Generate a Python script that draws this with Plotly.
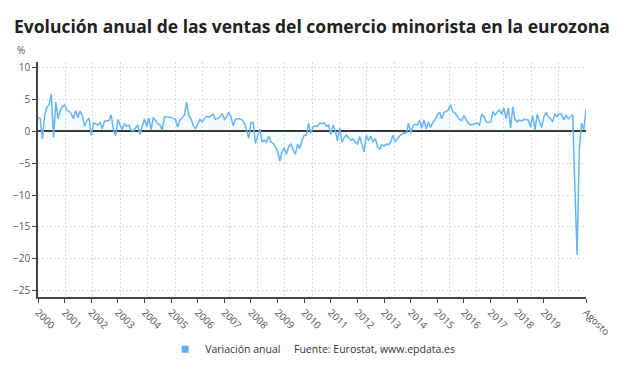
import pandas as pd
import plotly.graph_objects as go

# ---- data (annual % change, monthly, Jan 2000 - Aug 2020) ----
v2000 = [2.2, 2.0, -1.2, 2.5, 3.8, 4.2, 5.9, -0.9, 4.6, 2.0, 3.3, 3.9]
v2001 = [4.2, 3.3, 3.2, 2.8, 2.0, 3.3, 2.2, 3.2, 2.4, 0.8, 1.7, 2.1]
v2002 = [-0.6, 1.3, 1.2, 1.0, 1.4, 0.4, 1.6, 1.6, 1.7, 2.6, 0.2, -0.7]
v2003 = [1.9, 1.0, 0.3, 1.2, 0.8, 1.0, 0.2, 0.1, 0.5, 1.0, -0.5, 0.8]
v2004 = [2.0, 0.8, 2.1, 0.3, 2.2, 1.7, 1.2, 1.0, 0.2, 2.3, 2.3, 2.2]
v2005 = [2.2, 2.0, 1.9, 0.7, 1.8, 2.1, 2.6, 4.6, 2.4, 2.0, 0.9, 0.4]
v2006 = [1.3, 1.9, 1.5, 2.0, 2.4, 2.2, 2.4, 2.7, 1.9, 2.0, 2.3, 2.8]
v2007 = [1.9, 2.3, 3.0, 2.3, 0.9, 1.9, 2.0, 2.0, 1.8, 1.3, 0.2, -1.1]
v2008 = [1.4, 1.4, -1.9, -0.8, 0.4, -1.7, -1.4, -1.7, -0.7, -1.7, -1.9, -2.4]
v2009 = [-3.2, -4.7, -3.2, -2.6, -3.6, -2.4, -2.0, -2.9, -3.6, -2.0, -2.7, -1.4]
v2010 = [-0.6, -0.6, 1.3, -0.3, 0.7, 0.9, 0.8, 1.3, 1.2, 1.4, 0.8, 1.0]
v2011 = [-0.5, 1.0, 0.2, -1.5, 0.5, -1.7, -1.0, -0.6, -1.0, -1.4, -1.2, -1.7]
v2012 = [-2.0, -0.8, -2.0, -3.2, -0.6, -1.4, -0.7, -1.7, -1.1, -2.4, -2.8, -2.1]
v2013 = [-2.3, -2.0, -2.1, -1.7, -0.6, -1.7, -1.1, -0.7, -0.5, -0.2, -0.3, 1.3]
v2014 = [-0.3, 0.9, 1.1, 1.0, 1.8, 0.5, 1.8, 0.4, 1.5, 0.6, 1.5, 1.8]
v2015 = [2.6, 3.0, 2.0, 3.0, 3.1, 3.4, 4.2, 3.1, 2.9, 2.3, 1.9, 1.7]
v2016 = [2.5, 1.8, 1.3, 1.0, 1.1, 1.1, 1.3, 1.0, 2.7, 2.3, 1.5, 1.4]
v2017 = [1.5, 3.1, 2.6, 3.0, 3.4, 2.7, 3.7, 2.0, 3.7, 0.5, 3.9, 1.9]
v2018 = [1.5, 1.8, 1.6, 1.9, 1.9, 1.8, 0.7, 2.5, 0.2, 2.7, 1.6, 0.6]
v2019 = [2.3, 3.0, 2.3, 2.0, 1.5, 2.8, 2.3, 2.8, 2.7, 1.8, 2.6, 2.0]
v2020 = [2.3, 2.6, -8.8, -19.4, -3.0, 1.3, 0.2, 3.6]

values = (v2000 + v2001 + v2002 + v2003 + v2004 + v2005 + v2006 + v2007 +
          v2008 + v2009 + v2010 + v2011 + v2012 + v2013 + v2014 + v2015 +
          v2016 + v2017 + v2018 + v2019 + v2020)
dates = pd.date_range("2000-01-01", periods=len(values), freq="MS")

tick_vals = [f"{y}-01-01" for y in range(2000, 2020)] + ["2020-08-01"]
tick_text = [str(y) for y in range(2000, 2020)] + ["Agosto"]
y_ticks = [-25, -20, -15, -10, -5, 0, 5, 10]

series_name = "Variación anual"
title_text = "Evolución anual de las ventas del comercio minorista en la eurozona"
source_text = "Fuente: Eurostat, www.epdata.es"

LINE = "#64b5f6"
FONT = "Open Sans"
GRID = "#d9d9d9"

fig = go.Figure()
fig.add_trace(go.Scatter(
    x=dates, y=values, mode="lines", name=series_name,
    line=dict(color=LINE, width=1.5),
    fill="tozeroy", fillcolor="rgba(100,181,246,0.06)",
    showlegend=False,
))
# legend entry (square marker)
fig.add_trace(go.Scatter(
    x=[None], y=[None], mode="markers", name=series_name,
    marker=dict(symbol="square", size=7, color="#5fb0f2"),
    showlegend=True,
))
# helper trace for the evenly spaced vertical grid
fig.add_trace(go.Scatter(
    x=[0, 20], y=[None, None], xaxis="x2", mode="lines",
    showlegend=False, hoverinfo="skip",
))

fig.update_layout(
    width=638, height=375,
    margin=dict(l=38, r=52, t=62, b=78, autoexpand=False),
    paper_bgcolor="white", plot_bgcolor="white",
    font=dict(family=FONT, size=10, color="#555"),
    title=dict(text=title_text, x=14 / 638, xanchor="left",
               y=1 - 27 / 375, yanchor="middle",
               xref="container", yref="container",
               font=dict(family=FONT, size=17.5, color="#222", weight="bold")),
    xaxis=dict(
        type="date", automargin=False,
        range=["2000-01-01", "2020-08-01"],
        tickmode="array", tickvals=tick_vals, ticktext=tick_text,
        tickangle=45, ticks="outside", ticklen=4, tickcolor="#444",
        showline=True, linecolor="#444", linewidth=1.5,
        showgrid=False, zeroline=False,
        tickfont=dict(size=10, color="#555"),
    ),
    xaxis2=dict(
        overlaying="x", anchor="y", range=[0, 20], tick0=0, dtick=1,
        automargin=False,
        showticklabels=False, ticks="", showline=False, zeroline=False,
        showgrid=True, gridcolor=GRID, griddash="2px,2px", gridwidth=1,
    ),
    yaxis=dict(
        range=[-26, 10.9], automargin=False,
        tickmode="array", tickvals=y_ticks,
        ticks="outside", ticklen=4, tickcolor="#444",
        showline=True, linecolor="#444", linewidth=1.5,
        showgrid=True, gridcolor=GRID, griddash="2px,2px", gridwidth=1,
        zeroline=True, zerolinecolor="#333", zerolinewidth=1.5,
        tickfont=dict(size=10, color="#555"),
    ),
    legend=dict(
        orientation="h", x=0.232, xanchor="left", y=-0.222, yanchor="middle",
        font=dict(family=FONT, size=10.5, color="#333"),
        itemwidth=30, bgcolor="rgba(0,0,0,0)",
    ),
    annotations=[
        dict(text="%", xref="paper", yref="paper", x=-0.031, y=1.052,
             xanchor="center", yanchor="middle", showarrow=False,
             font=dict(family=FONT, size=10, color="#555")),
        dict(text=source_text, xref="paper", yref="paper",
             x=(292 - 38) / 548, y=-0.222, xanchor="left", yanchor="middle",
             showarrow=False,
             font=dict(family=FONT, size=10.5, color="#333")),
    ],
)

fig.write_html("out.html", config={"displayModeBar": False},
               post_script="document.body.style.margin='0';")
